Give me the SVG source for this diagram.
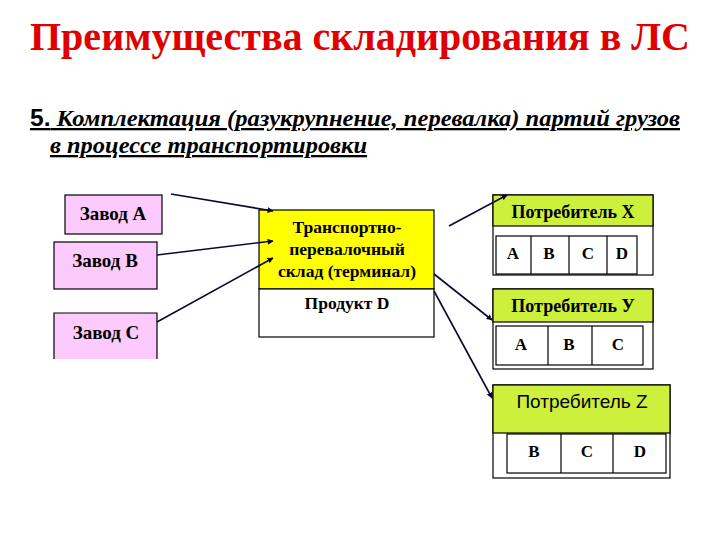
<svg xmlns="http://www.w3.org/2000/svg" width="720" height="540" viewBox="0 0 720 540">
<style>
text{font-family:"Liberation Serif",Tinos,"Times New Roman",Times,"DejaVu Serif",serif}
.t{font-weight:bold;fill:#000}
.title{font-weight:bold;fill:#e00000;font-size:40px}
.sub{font-weight:bold;font-style:italic;font-size:23px;text-decoration:underline}
.box{stroke:#000;stroke-width:1.2}
.pink{fill:#fccafc}
.yel{fill:#ffff00}
.grn{fill:#ccf03c}
.wh{fill:#fff}
.c{stroke:#0a0a30;stroke-width:1.6;fill:none;marker-end:url(#ah)}
</style>
<defs>
<marker id="ah" viewBox="0 0 10 10" refX="9" refY="5" markerWidth="6" markerHeight="6" orient="auto" markerUnits="userSpaceOnUse"><path d="M0,0 L10,5 L0,10 z" fill="#0a0a30"/></marker>
</defs>
<rect width="720" height="540" fill="#fff"/>
<text class="title" x="30" y="50" textLength="660" lengthAdjust="spacingAndGlyphs">Преимущества складирования в ЛС</text>
<text class="sub" x="30" y="126" textLength="650" lengthAdjust="spacingAndGlyphs"><tspan style="font-family:'Liberation Sans',Arial,sans-serif;font-style:normal">5.</tspan> Комплектация (разукрупнение, перевалка) партий грузов</text>
<text class="sub" x="50" y="153" textLength="317" lengthAdjust="spacingAndGlyphs">в процессе транспортировки</text>

<g id="zavodA"><rect class="box pink" x="65" y="195" width="97" height="39"/><text class="t" x="113" y="220" font-size="19" text-anchor="middle">Завод A</text></g>
<g id="zavodB"><rect class="box pink" x="54" y="242" width="103" height="47"/><text class="t" x="105" y="267" font-size="19" text-anchor="middle">Завод B</text></g>
<g id="zavodC"><rect class="pink" x="54" y="313" width="103" height="46"/><path class="box" fill="none" d="M54,359 V313 H157 V359"/><text class="t" x="106" y="339" font-size="19" text-anchor="middle">Завод C</text></g>

<g id="terminal">
<rect class="box yel" x="259" y="210" width="175" height="79"/>
<rect class="box wh" x="259" y="289" width="175" height="48"/>
<text class="t" x="347" y="233" font-size="17.5" text-anchor="middle">Транспортно-</text>
<text class="t" x="347" y="255" font-size="17.5" text-anchor="middle">перевалочный</text>
<text class="t" x="347" y="277" font-size="17.5" text-anchor="middle">склад (терминал)</text>
<text class="t" x="347" y="309" font-size="17.5" text-anchor="middle">Продукт D</text>
</g>

<g id="consumerX">
<rect class="box wh" x="493" y="195" width="160" height="80"/>
<rect class="box grn" x="493" y="195" width="160" height="31"/>
<text class="t" x="573" y="218" font-size="18" text-anchor="middle">Потребитель X</text>
<rect class="box wh" x="496" y="236" width="141" height="38"/>
<path class="box" d="M531,236 V274 M569,236 V274 M607,236 V274"/>
<text class="t" x="513" y="259" font-size="17" text-anchor="middle">A</text>
<text class="t" x="549" y="259" font-size="17" text-anchor="middle">B</text>
<text class="t" x="588" y="259" font-size="17" text-anchor="middle">C</text>
<text class="t" x="622" y="259" font-size="17" text-anchor="middle">D</text>
</g>

<g id="consumerY">
<rect class="box wh" x="493" y="289" width="160" height="80"/>
<rect class="box grn" x="493" y="289" width="160" height="33"/>
<text class="t" x="573" y="312" font-size="18" text-anchor="middle">Потребитель У</text>
<rect class="box wh" x="496" y="326" width="147" height="39"/>
<path class="box" d="M548,326 V365 M592,326 V365"/>
<text class="t" x="521" y="350" font-size="17" text-anchor="middle">A</text>
<text class="t" x="569" y="350" font-size="17" text-anchor="middle">B</text>
<text class="t" x="618" y="350" font-size="17" text-anchor="middle">C</text>
</g>

<g id="consumerZ">
<rect class="box wh" x="493" y="385" width="177" height="93"/>
<rect class="box grn" x="493" y="385" width="177" height="48"/>
<text x="582" y="408" font-size="19" text-anchor="middle" style="font-family:'Liberation Sans',Arial,sans-serif" fill="#000">Потребитель Z</text>
<rect class="box wh" x="507" y="434" width="159" height="39"/>
<path class="box" d="M561,434 V473 M613,434 V473"/>
<text class="t" x="534" y="457" font-size="17" text-anchor="middle">B</text>
<text class="t" x="587" y="457" font-size="17" text-anchor="middle">C</text>
<text class="t" x="640" y="457" font-size="17" text-anchor="middle">D</text>
</g>

<g id="connectors">
<line class="c" x1="171" y1="194" x2="273" y2="211"/>
<line class="c" x1="157" y1="255" x2="273" y2="241"/>
<line class="c" x1="157" y1="322" x2="273" y2="258"/>
<line class="c" x1="449" y1="226" x2="507" y2="195"/>
<line class="c" x1="434" y1="274" x2="492" y2="320"/>
<line class="c" x1="434" y1="291" x2="492" y2="398"/>
</g>
</svg>
